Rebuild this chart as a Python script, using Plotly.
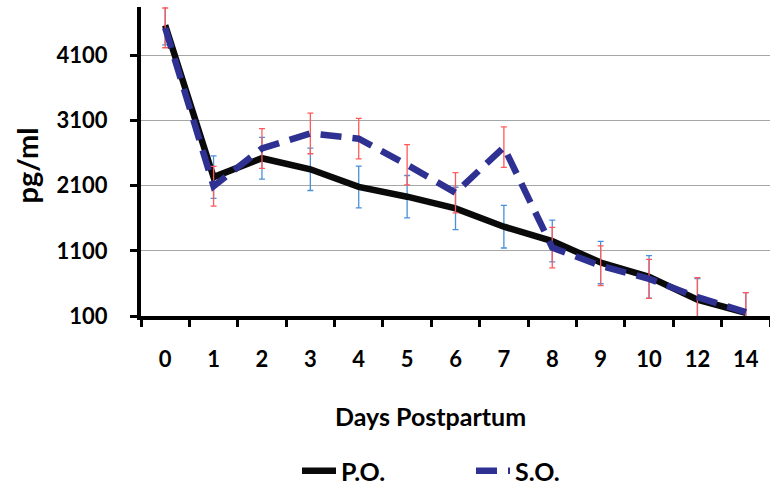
import plotly.graph_objects as go

days = ["0", "1", "2", "3", "4", "5", "6", "7", "8", "9", "10", "12", "14"]
po = [4560, 2230, 2520, 2350, 2080, 1930, 1750, 1470, 1250, 920, 700, 350, 150]
so = [4520, 2090, 2670, 2900, 2820, 2420, 1990, 2690, 1150, 870, 670, 390, 160]
po_err = [300, 325, 320, 325, 320, 325, 325, 327, 320, 325, 325, 325, 310]
so_err = [305, 305, 304, 311, 311, 309, 309, 311, 311, 305, 300, 300, 300]
y_ticks = [100, 1100, 2100, 3100, 4100]

font_family = "Lato, 'Open Sans', sans-serif"
L, T, W, H = 141, 7, 629, 309

def px_x(x):
    return (x - L) / W

def px_y(y):
    return 1 - (y - T) / H

fig = go.Figure()
fig.add_trace(go.Scatter(
    x=days, y=po, name="P.O.", mode="lines",
    line=dict(color="#0a0a0a", width=6.5),
    error_y=dict(type="data", array=po_err, visible=True,
                 color="#4a90d9", thickness=1.3, width=3),
))
fig.add_trace(go.Scatter(
    x=days, y=so, name="S.O.", mode="lines",
    line=dict(color="#2e3192", width=6.5, dash="21px,11px"),
    error_y=dict(type="data", array=so_err, visible=True,
                 color="#ff5a5a", thickness=1.3, width=3),
))

fig.update_layout(
    width=770, height=485,
    margin=dict(l=L, r=770 - L - W, t=T, b=485 - T - H, autoexpand=False),
    plot_bgcolor="white", paper_bgcolor="white",
    font=dict(family=font_family, color="black", size=22, weight="bold"),
    showlegend=True,
    legend=dict(orientation="h", x=px_x(297), xanchor="left", xref="paper",
                y=px_y(471), yanchor="middle",
                font=dict(size=25, weight="bold", family=font_family),
                itemwidth=34, tracegroupgap=0, entrywidthmode="pixels", entrywidth=125),
    annotations=[
        dict(text="Days Postpartum", x=px_x(430), y=px_y(416), xref="paper", yref="paper",
             xanchor="center", yanchor="middle", showarrow=False,
             font=dict(size=25, weight="bold", family=font_family)),
        dict(text="pg/ml", x=px_x(26), y=px_y(165.5), xref="paper", yref="paper",
             xanchor="center", yanchor="middle", showarrow=False, textangle=-90,
             font=dict(size=29, weight="bold", family=font_family)),
    ],
)
fig.update_xaxes(
    type="category", range=[-0.5, 12.5], automargin=False,
    showline=True, linecolor="black", linewidth=4,
    ticks="outside", tickson="boundaries", ticklen=7, tickwidth=3, tickcolor="black",
    tickfont=dict(size=22, weight="bold", family=font_family),
    ticklabelstandoff=21,
    showgrid=False, zeroline=False,
)
fig.update_yaxes(
    range=[100, 4840], automargin=False,
    tickvals=y_ticks, ticktext=[str(v) for v in y_ticks],
    showline=True, linecolor="black", linewidth=4,
    ticks="outside", ticklen=7, tickwidth=2.5, tickcolor="black",
    tickfont=dict(size=22, weight="bold", family=font_family),
    ticklabelstandoff=18,
    showgrid=True, gridcolor="#a6a6a6", gridwidth=1.3,
    zeroline=False,
)

fig.write_html("out.html")
